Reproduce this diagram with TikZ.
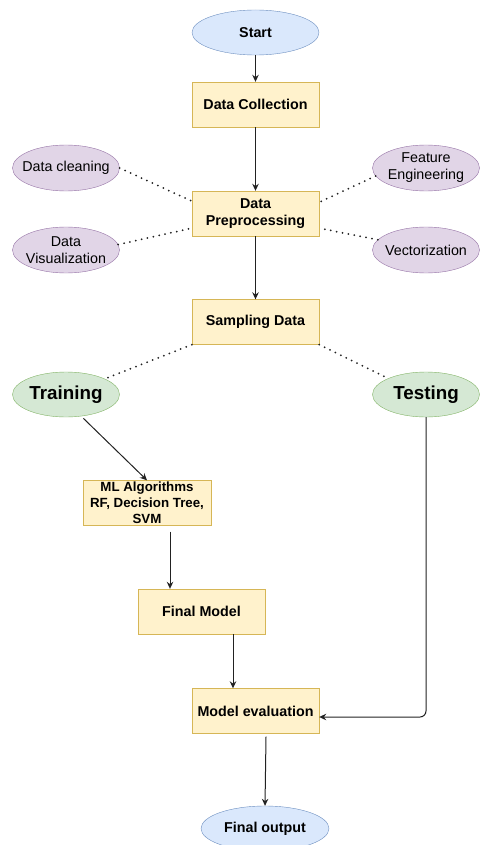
\documentclass[tikz,border=0pt]{standalone}
\usepackage{fontspec}
\setmainfont{Liberation Sans}
\usetikzlibrary{shapes.geometric,arrows.meta}
\definecolor{blueF}{HTML}{DAE8FC}
\definecolor{blueD}{HTML}{6C8EBF}
\definecolor{yelF}{HTML}{FFF2CC}
\definecolor{yelD}{HTML}{D6B656}
\definecolor{purF}{HTML}{E1D5E7}
\definecolor{purD}{HTML}{9673A6}
\definecolor{grnF}{HTML}{D5E8D4}
\definecolor{grnD}{HTML}{82B366}
\definecolor{lineC}{HTML}{222222}
\begin{document}
\begin{tikzpicture}[x=1pt,y=-1pt,>={Stealth[length=7pt,width=6.5pt]},
  endbox/.style={ellipse,draw=blueD,fill=blueF,minimum width=127pt,minimum height=45pt,inner sep=0pt,font=\fontsize{14.3}{17}\selectfont\bfseries},
  procbox/.style={rectangle,draw=yelD,fill=yelF,minimum width=127pt,minimum height=45pt,inner sep=0pt,align=center,font=\fontsize{14.3}{17}\selectfont\bfseries},
  sidebox/.style={ellipse,draw=purD,fill=purF,minimum width=107pt,minimum height=46pt,inner xsep=-10pt,inner ysep=-4pt,align=center,font=\fontsize{14.3}{17}\selectfont},
  splitbox/.style={ellipse,draw=grnD,fill=grnF,minimum width=107pt,minimum height=45pt,inner sep=0pt,font=\fontsize{18.8}{21}\selectfont\bfseries},
  flow/.style={->,draw=lineC,line width=1pt},
  link/.style={draw=lineC,line width=2pt,line cap=round,dash pattern=on 0pt off 6pt}]
\useasboundingbox (0,0) rectangle (479,845);

\node[endbox] (start) at (255.5,32.5) {Start};
\node[procbox] (collect) at (255.5,104.5) {Data Collection};
\node[procbox] (prep) at (255.5,213.5) {Data\\Preprocessing};
\node[sidebox] (clean) at (66,168) {Data cleaning};
\node[sidebox] (feat) at (426,168) {Feature\\Engineering};
\node[sidebox] (visual) at (66,250) {Data\\Visualization};
\node[sidebox] (vector) at (426,250) {Vectorization};
\node[procbox] (sample) at (255.5,322) {Sampling Data};
\node[splitbox] (train) at (66,394.5) {Training};
\node[splitbox] (test) at (426,394.5) {Testing};
\node[procbox,minimum width=128pt,font=\fontsize{13.3}{16}\selectfont\bfseries] (algo) at (147,503) {ML Algorithms\\RF, Decision Tree,\\SVM};
\node[procbox] (model) at (201.5,611.5) {Final Model};
\node[procbox] (eval) at (255.5,711) {Model evaluation};
\node[endbox,minimum width=128pt] (output) at (265,828.5) {Final output};

\draw[flow] (start) -- (collect);
\draw[flow] (collect) -- (prep);
\draw[flow] (prep) -- (sample);

\draw[link] (clean.east) -- (prep.169);
\draw[link] (feat.189) -- (prep.10);
\draw[link] (visual.6) -- (prep.193);
\draw[link] (vector.168) -- (prep.-13);
\draw[link] (sample.south west) -- (train.22);
\draw[link] (sample.south east) -- (test.157);

\draw[flow,shorten <=3pt] (train.-55) -- (algo.north);
\draw[flow] ([xshift=23pt,yshift=-6pt]algo.south) -- ([xshift=23pt]algo.south |- model.north);
\draw[flow] ([xshift=31.5pt]model.south) -- ([xshift=31.5pt]model.south |- eval.north);
\draw[flow,rounded corners=6pt] (test.south) |- ([yshift=-6pt]eval.east);
\draw[flow] ([xshift=10.5pt,yshift=-3pt]eval.south) -- (output.north);
\end{tikzpicture}
\end{document}
